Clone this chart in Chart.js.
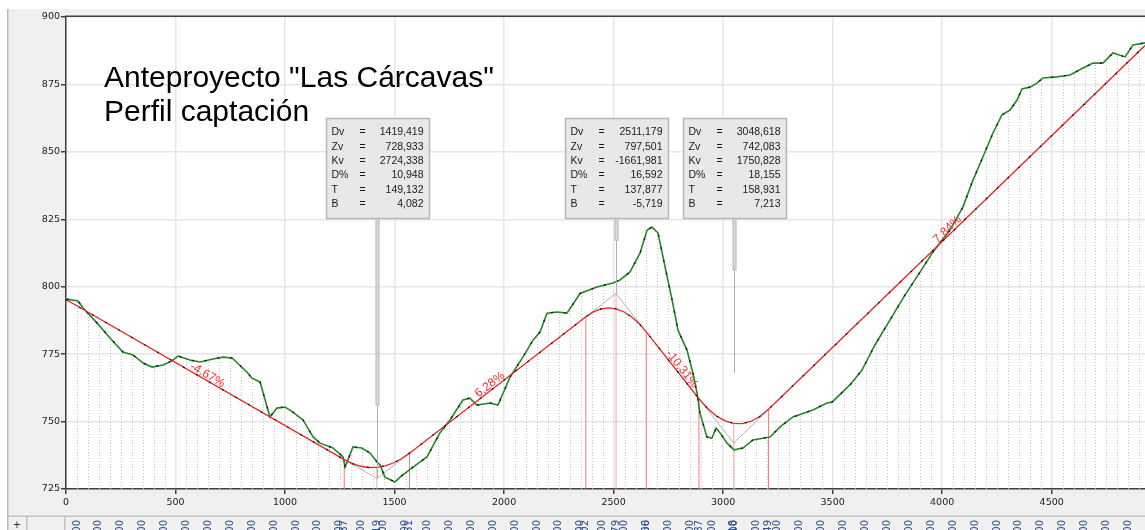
<!DOCTYPE html>
<html>
<head>
<meta charset="utf-8">
<script src="https://cdn.jsdelivr.net/npm/chart.js@4.4.1/dist/chart.umd.min.js"></script>
<style>
  html, body { margin: 0; padding: 0; background: #fff; }
  #wrap { width: 1145px; height: 530px; }
</style>
</head>
<body>
<div id="wrap"><canvas id="perfil" width="1145" height="530"></canvas></div>
<script>
// Terreno natural: distancia al origen (m) y cota (m)
const terrainDist = [3, 55, 78, 142, 201, 260, 306, 352, 393, 443, 484, 511, 566, 612, 671, 717, 758,
  826, 849, 886, 931, 963, 1000, 1036, 1082, 1128, 1160, 1219, 1265, 1274, 1310, 1351, 1388, 1420,
  1434, 1456, 1502, 1525, 1584, 1648, 1707, 1753, 1812, 1844, 1876, 1936, 1972, 2027, 2086, 2132,
  2164, 2196, 2242, 2287, 2347, 2424, 2497, 2529, 2575, 2621, 2653, 2675, 2703, 2735, 2767, 2794,
  2835, 2862, 2881, 2894, 2926, 2949, 2968, 2986, 3018, 3050, 3091, 3136, 3214, 3260, 3319, 3410,
  3474, 3497, 3579, 3634, 3693, 3762, 3830, 3890, 3958, 4036, 4095, 4141, 4186, 4232, 4273, 4310,
  4342, 4364, 4401, 4433, 4460, 4524, 4584, 4643, 4689, 4734, 4780, 4835, 4871, 4926];
const terrainElev = [795.4, 794.7, 792.1, 786.5, 781.0, 775.8, 774.7, 771.7, 770.2, 771.0, 772.5, 774.3,
  772.8, 772.1, 773.2, 773.9, 773.6, 768.4, 766.1, 764.7, 751.7, 755.0, 755.4, 753.5, 750.6, 744.3,
  742.0, 740.2, 736.9, 733.1, 740.6, 740.2, 738.3, 735.0, 733.9, 729.4, 727.6, 729.4, 733.1, 736.9,
  745.8, 750.6, 758.0, 758.7, 756.1, 756.9, 756.1, 766.5, 773.9, 780.2, 783.2, 790.2, 790.6, 790.2,
  797.5, 799.9, 801.4, 802.5, 805.5, 812.5, 821.0, 822.1, 819.9, 807.3, 795.1, 783.9, 776.5, 768.0,
  760.6, 753.2, 744.3, 743.9, 747.6, 745.8, 742.0, 739.5, 740.2, 743.2, 744.3, 748.0, 751.7, 754.3,
  756.9, 757.2, 763.6, 769.1, 778.4, 787.7, 796.9, 804.3, 812.9, 821.0, 829.6, 839.6, 848.1, 857.0,
  863.7, 865.5, 869.2, 873.3, 874.0, 875.5, 877.4, 877.8, 878.5, 881.1, 882.9, 882.9, 886.7, 885.2,
  889.6, 890.4];

// Rasante: origen, puntos de las tres curvas verticales y final
const gradeDist = [0,
  1270.29, 1307.57, 1344.85, 1382.14, 1419.42, 1456.70, 1493.99, 1531.27, 1568.55,
  2373.30, 2407.77, 2442.24, 2476.71, 2511.18, 2545.65, 2580.12, 2614.59, 2649.06,
  2889.69, 2929.42, 2969.15, 3008.89, 3048.62, 3088.35, 3128.08, 3167.82, 3207.55,
  4926];
const gradeElev = [795.22,
  735.897, 734.411, 733.435, 732.970, 733.014, 733.569, 734.634, 736.210, 738.295,
  788.842, 790.649, 791.742, 792.119, 791.782, 790.729, 788.962, 786.480, 783.283,
  758.469, 754.823, 752.080, 750.237, 749.297, 749.258, 750.121, 751.885, 754.551,
  889.44];

// Vertices de rasante y parámetros de cada acuerdo
const vertexDist = [1419.419, 2511.179, 3048.618];
const vertexElev = [728.933, 797.501, 742.083];
const vertexKv = [2724.338, -1661.981, 1750.828];
const vertexDiff = [10.948, 16.592, 18.155];
const vertexT = [149.132, 137.877, 158.931];
const vertexB = [4.082, -5.719, 7.213];
const curveTop = [733.015, 797.501, 749.296];

// Tangentes de entrada y salida de cada acuerdo
const pcvDist = [1270.287, 2373.302, 2889.687];
const pcvElev = [735.897, 788.842, 758.469];
const ptvDist = [1568.551, 2649.056, 3207.549];
const ptvElev = [738.299, 783.286, 754.551];

// Pendientes de cada tramo y dónde se rotulan
const gradePercent = [-4.67, 6.28, -10.31, 7.84];
const gradeLabelDist = [634, 1949, 2794, 4040];
const gradeNodeDist = [0, 1419.419, 2511.179, 3048.618, 4926];
const gradeNodeElev = [795.22, 728.933, 797.501, 742.083, 889.44];

// Extremo del indicador de cada etiqueta (trazo grueso y trazo fino)
const leaderThickEnd = [756, 817, 806];
const leaderThinEnd = [729, 797.5, 768];

const xTicks = [0, 500, 1000, 1500, 2000, 2500, 3000, 3500, 4000, 4500];
const yTicks = [725, 750, 775, 800, 825, 850, 875, 900];
const xMin = 0, xMax = 4926;
const yMin = 725, yMax = 900;

const fmt = (v) => v.toFixed(3).replace('.', ',');
const pts = (xs, ys) => xs.map((x, i) => ({ x: x, y: ys[i] }));

// vertical marks from the base of the plot
function verticals(xs, tops) {
  const out = [];
  xs.forEach((x, i) => {
    out.push({ x: x, y: yMin }, { x: x, y: tops[i] }, { x: x, y: null });
  });
  return out;
}

const tangentData = [];
for (let i = 0; i < vertexDist.length; i++) {
  tangentData.push({ x: pcvDist[i], y: pcvElev[i] }, { x: vertexDist[i], y: vertexElev[i] },
    { x: ptvDist[i], y: ptvElev[i] }, { x: ptvDist[i], y: null });
}

const TERRAIN = 3;
const datasets = [
  { data: pts(gradeDist, gradeElev), borderColor: 'rgba(20,0,0,0.8)', borderWidth: 1.3, borderDash: [2, 13] },
  { data: pts(gradeDist, gradeElev), borderColor: '#e4262a', borderWidth: 1.3 },
  { data: pts(terrainDist, terrainElev), borderColor: 'rgba(0,30,0,0.85)', borderWidth: 1.5, borderDash: [2, 11] },
  { data: pts(terrainDist, terrainElev), borderColor: '#24882a', borderWidth: 1.6 },
  { data: tangentData, borderColor: '#b4b4b4', borderWidth: 1 },
  { data: verticals(pcvDist.concat(ptvDist), pcvElev.concat(ptvElev)), borderColor: '#f27a7a', borderWidth: 1 },
  { data: verticals(vertexDist, curveTop), borderColor: '#f4a4a4', borderWidth: 1 }
].map(d => Object.assign({ showLine: true, pointRadius: 0, tension: 0, spanGaps: false }, d));

const frame = {
  id: 'frame',
  beforeDraw(chart) {
    const { ctx, chartArea: a } = chart;
    ctx.save();
    ctx.fillStyle = '#fff';
    ctx.fillRect(0, 0, chart.width, chart.height);
    ctx.fillStyle = '#f0f0f0';
    ctx.fillRect(7, 9, chart.width - 7, chart.height - 9);
    ctx.fillStyle = '#b9b9b9';
    ctx.fillRect(7, 9, 1.5, chart.height - 9);
    ctx.fillStyle = '#fff';
    ctx.fillRect(a.left, a.top, a.right - a.left, a.bottom - a.top);
    ctx.restore();
  }
};

// dotted station lines every 50 m, under the terrain profile
const stationLines = {
  id: 'stationLines',
  beforeDatasetsDraw(chart) {
    const { ctx, chartArea: a, scales: { x } } = chart;
    const p = chart.getDatasetMeta(TERRAIN).data;
    ctx.save();
    ctx.beginPath();
    ctx.moveTo(p[0].x, a.bottom);
    p.forEach(e => ctx.lineTo(e.x, e.y));
    ctx.lineTo(p[p.length - 1].x, a.bottom);
    ctx.closePath();
    ctx.clip();
    ctx.strokeStyle = '#c4c4c4';
    ctx.lineWidth = 1;
    ctx.setLineDash([1, 2]);
    for (let d = 50; d < xMax; d += 50) {
      if (d % 500 === 0) continue;
      const px = Math.round(x.getPixelForValue(d)) + 0.5;
      ctx.beginPath();
      ctx.moveTo(px, a.bottom);
      ctx.lineTo(px, a.top);
      ctx.stroke();
    }
    ctx.restore();
  }
};

const annotations = {
  id: 'annotations',
  afterDraw(chart) {
    const { ctx, chartArea: a, scales: { x, y } } = chart;
    ctx.save();

    // top border of the plot
    ctx.fillStyle = '#404040';
    ctx.fillRect(a.left - 1, a.top - 1.5, a.right - a.left + 1, 1.5);

    // grade percentages along each straight
    ctx.fillStyle = '#ff2d2d';
    ctx.font = '12px "Liberation Sans"';
    ctx.textAlign = 'center';
    ctx.textBaseline = 'bottom';
    gradePercent.forEach((g, k) => {
      const x0 = x.getPixelForValue(gradeNodeDist[k]), y0 = y.getPixelForValue(gradeNodeElev[k]);
      const x1 = x.getPixelForValue(gradeNodeDist[k + 1]), y1 = y.getPixelForValue(gradeNodeElev[k + 1]);
      const px = x.getPixelForValue(gradeLabelDist[k]);
      const py = y0 + (y1 - y0) * (px - x0) / (x1 - x0);
      ctx.save();
      ctx.translate(px, py);
      ctx.rotate(Math.atan2(y1 - y0, x1 - x0));
      ctx.fillText(g.toFixed(2).replace('.', ',') + '%', 0, 1);
      ctx.restore();
    });

    // leaders and parameter boxes at each vertex
    const rows = [['Dv', vertexDist], ['Zv', vertexElev], ['Kv', vertexKv],
      ['D%', vertexDiff], ['T', vertexT], ['B', vertexB]];
    vertexDist.forEach((d, i) => {
      const cx = Math.round(x.getPixelForValue(d)) + 0.5;
      const left = Math.round(cx - 51.5) + 0.5, top = 118.5, w = 103, h = 100;
      const yThick = y.getPixelForValue(leaderThickEnd[i]);
      const yThin = y.getPixelForValue(leaderThinEnd[i]);
      ctx.strokeStyle = '#b0b0b0';
      ctx.lineWidth = 1;
      ctx.beginPath();
      ctx.moveTo(cx, yThick);
      ctx.lineTo(cx, yThin);
      ctx.stroke();
      ctx.fillStyle = '#b4b4b4';
      ctx.fillRect(cx - 2, top + h, 4, yThick - top - h);
      ctx.fillStyle = '#dcdcdc';
      ctx.fillRect(cx - 1, top + h, 2, yThick - top - h - 1);

      ctx.fillStyle = '#e8e8e8';
      ctx.fillRect(left, top, w, h);
      ctx.strokeStyle = '#b8b8b8';
      ctx.lineWidth = 1.5;
      ctx.strokeRect(left, top, w, h);

      ctx.fillStyle = '#1a1a1a';
      ctx.font = '10.5px "Liberation Sans"';
      ctx.textBaseline = 'middle';
      rows.forEach((r, j) => {
        const ty = 132.5 + j * 14.35;
        ctx.textAlign = 'left';
        ctx.fillText(r[0], left + 5, ty);
        ctx.fillText('=', left + 33, ty);
        ctx.textAlign = 'right';
        ctx.fillText(fmt(r[1][i]), left + 97, ty);
      });
    });

    // title
    ctx.fillStyle = '#000';
    ctx.font = '30px "Liberation Sans"';
    ctx.textAlign = 'left';
    ctx.textBaseline = 'alphabetic';
    ctx.fillText('Anteproyecto "Las Cárcavas"', 104, 87);
    ctx.fillText('Perfil captación', 104, 121);

    // station strip below the axis
    const sTop = 517;
    ctx.fillStyle = '#c2c2c2';
    ctx.fillRect(7, sTop - 1.5, chart.width - 7, 1.5);
    [26, 64].forEach(v => ctx.fillRect(v, sTop, 1.5, chart.height - sTop));
    ctx.fillStyle = '#333';
    ctx.font = '10px "DejaVu Sans"';
    ctx.textAlign = 'center';
    ctx.fillText('+', 17, 528);

    ctx.beginPath();
    ctx.rect(66, sTop, chart.width - 66, chart.height - sTop);
    ctx.clip();
    const stations = [];
    for (let d = 50; d < xMax; d += 100) stations.push([d, d.toFixed(2).replace('.', ',')]);
    pcvDist.concat(vertexDist, ptvDist).forEach(d => stations.push([d, fmt(d)]));
    ctx.fillStyle = '#2d4f93';
    ctx.font = '10px "DejaVu Sans"';
    ctx.textAlign = 'right';
    ctx.textBaseline = 'middle';
    stations.forEach(s => {
      ctx.save();
      ctx.translate(x.getPixelForValue(s[0]), sTop + 3);
      ctx.rotate(-Math.PI / 2);
      ctx.fillText(s[1], 0, 0);
      ctx.restore();
    });
    ctx.restore();
  }
};

const tickFont = { family: 'DejaVu Sans', size: 9.5 };

new Chart(document.getElementById('perfil'), {
  type: 'scatter',
  data: { datasets: datasets },
  plugins: [frame, stationLines, annotations],
  options: {
    responsive: false,
    animation: false,
    devicePixelRatio: 1,
    layout: { padding: { top: 17, left: 0, right: 0, bottom: 0 } },
    plugins: { legend: { display: false }, tooltip: { enabled: false } },
    scales: {
      x: {
        type: 'linear', min: xMin, max: xMax,
        afterBuildTicks: (s) => { s.ticks = xTicks.map(v => ({ value: v })); },
        ticks: { maxRotation: 0, padding: 3, color: '#1a1a1a', font: tickFont, callback: (v) => String(v) },
        grid: { color: '#e6e6e6', lineWidth: 1.5, tickLength: 5, tickColor: '#404040' },
        border: { color: '#404040', width: 1.5 },
        afterFit: (s) => { s.height = 41; }
      },
      y: {
        type: 'linear', min: yMin, max: yMax,
        afterBuildTicks: (s) => { s.ticks = yTicks.map(v => ({ value: v })); },
        ticks: { padding: 1, color: '#1a1a1a', font: tickFont, callback: (v) => String(v) },
        grid: { color: '#e6e6e6', lineWidth: 1.5, tickLength: 5, tickColor: '#404040' },
        border: { color: '#404040', width: 1.5 },
        afterFit: (s) => { s.width = 66; }
      }
    }
  }
});
</script>
</body>
</html>
